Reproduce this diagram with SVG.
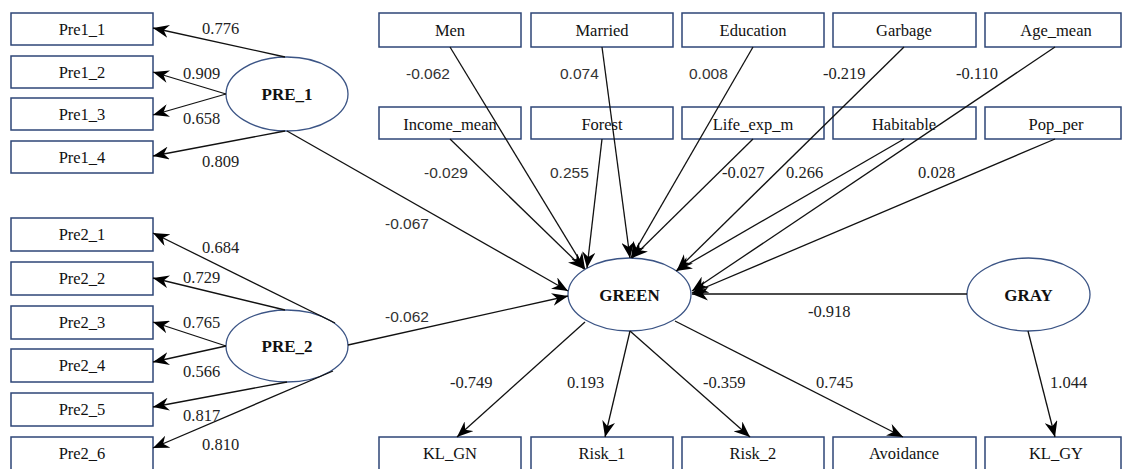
<svg xmlns="http://www.w3.org/2000/svg" width="1122" height="469" viewBox="0 0 1122 469">
<style>
.box{fill:#fff;stroke:#2e4677;stroke-width:1.5}
.ell{fill:#fff;stroke:#3b5485;stroke-width:1.3}
.bt{font-family:"Liberation Serif","Times New Roman",serif;font-size:16.5px;fill:#111;text-anchor:middle}
.lt{font-family:"Liberation Serif","Times New Roman",serif;font-size:17px;font-weight:bold;fill:#111;text-anchor:middle}
.cs{font-family:"Liberation Serif","Times New Roman",serif;font-size:16.5px;fill:#222}
.ca{font-family:"Liberation Sans",Arial,sans-serif;font-size:15.5px;fill:#333}
.ln{fill:none;stroke:#111;stroke-width:1.3;marker-end:url(#ah)}
</style>
<defs>
<marker id="ah" markerUnits="userSpaceOnUse" viewBox="0 0 16 13" refX="16" refY="6.5" markerWidth="16" markerHeight="13" orient="auto">
<path d="M0,0 L16,6.5 L0,13 L5,6.5 Z" fill="#000"/>
</marker>
</defs>
<rect width="1122" height="469" fill="#fff"/>

<g id="Pre1_1"><rect class="box" x="11" y="13" width="142" height="32"/><text class="bt" x="82" y="35">Pre1_1</text></g>
<g id="Pre1_2"><rect class="box" x="11" y="56" width="142" height="32"/><text class="bt" x="82" y="78">Pre1_2</text></g>
<g id="Pre1_3"><rect class="box" x="11" y="98" width="142" height="32"/><text class="bt" x="82" y="120">Pre1_3</text></g>
<g id="Pre1_4"><rect class="box" x="11" y="141" width="142" height="32"/><text class="bt" x="82" y="163">Pre1_4</text></g>

<g id="Pre2_1"><rect class="box" x="11" y="218" width="142" height="33"/><text class="bt" x="82" y="240">Pre2_1</text></g>
<g id="Pre2_2"><rect class="box" x="11" y="262" width="142" height="33"/><text class="bt" x="82" y="284">Pre2_2</text></g>
<g id="Pre2_3"><rect class="box" x="11" y="306" width="142" height="33"/><text class="bt" x="82" y="328">Pre2_3</text></g>
<g id="Pre2_4"><rect class="box" x="11" y="349" width="142" height="33"/><text class="bt" x="82" y="371">Pre2_4</text></g>
<g id="Pre2_5"><rect class="box" x="11" y="393" width="142" height="33"/><text class="bt" x="82" y="415">Pre2_5</text></g>
<g id="Pre2_6"><rect class="box" x="11" y="437" width="142" height="40"/><text class="bt" x="82" y="459">Pre2_6</text></g>

<g id="PRE_1"><ellipse class="ell" cx="287" cy="94" rx="61" ry="37"/><text class="lt" x="287" y="100">PRE_1</text></g>
<g id="PRE_2"><ellipse class="ell" cx="287" cy="346" rx="61" ry="36"/><text class="lt" x="287" y="352">PRE_2</text></g>
<g id="GREEN"><ellipse class="ell" cx="629.5" cy="294.5" rx="61.5" ry="36.5"/><text class="lt" x="629.5" y="300.5">GREEN</text></g>
<g id="GRAY"><ellipse class="ell" cx="1028.5" cy="294.5" rx="61.5" ry="36.5"/><text class="lt" x="1028.5" y="300.5">GRAY</text></g>

<g id="Men"><rect class="box" x="379" y="13" width="142" height="34"/><text class="bt" x="450" y="36">Men</text></g>
<g id="Married"><rect class="box" x="531" y="13" width="142" height="34"/><text class="bt" x="602" y="36">Married</text></g>
<g id="Education"><rect class="box" x="682" y="13" width="142" height="34"/><text class="bt" x="753" y="36">Education</text></g>
<g id="Garbage"><rect class="box" x="833" y="13" width="143" height="34"/><text class="bt" x="904" y="36">Garbage</text></g>
<g id="Age_mean"><rect class="box" x="985" y="13" width="136" height="34"/><text class="bt" x="1056" y="36">Age_mean</text></g>

<g id="Income_mean"><rect class="box" x="379" y="107" width="142" height="32"/><text class="bt" x="450" y="130">Income_mean</text></g>
<g id="Forest"><rect class="box" x="531" y="107" width="142" height="32"/><text class="bt" x="602" y="130">Forest</text></g>
<g id="Life_exp_m"><rect class="box" x="682" y="107" width="142" height="32"/><text class="bt" x="753" y="130">Life_exp_m</text></g>
<g id="Habitable"><rect class="box" x="833" y="107" width="143" height="32"/><text class="bt" x="904" y="130">Habitable</text></g>
<g id="Pop_per"><rect class="box" x="985" y="107" width="136" height="32"/><text class="bt" x="1056" y="130">Pop_per</text></g>

<g id="KL_GN"><rect class="box" x="379" y="437" width="142" height="40"/><text class="bt" x="450" y="459">KL_GN</text></g>
<g id="Risk_1"><rect class="box" x="531" y="437" width="142" height="40"/><text class="bt" x="602" y="459">Risk_1</text></g>
<g id="Risk_2"><rect class="box" x="682" y="437" width="142" height="40"/><text class="bt" x="753" y="459">Risk_2</text></g>
<g id="Avoidance"><rect class="box" x="833" y="437" width="143" height="40"/><text class="bt" x="904" y="459">Avoidance</text></g>
<g id="KL_GY"><rect class="box" x="985" y="437" width="136" height="40"/><text class="bt" x="1056" y="459">KL_GY</text></g>

<g id="connectors">
<path class="ln" d="M285,57 L153,28"/>
<path class="ln" d="M226,94 L153,72"/>
<path class="ln" d="M226,94 L153,115"/>
<path class="ln" d="M285,131 L153,156"/>
<path class="ln" d="M335,323 L153,233"/>
<path class="ln" d="M285,310 L153,278"/>
<path class="ln" d="M226,346 L153,322"/>
<path class="ln" d="M226,346 L153,362"/>
<path class="ln" d="M287,382 L153,407"/>
<path class="ln" d="M333,371 L153,448"/>
<path class="ln" d="M287,131 L568,291"/>
<path class="ln" d="M348,345 L568,296"/>
<path class="ln" d="M450,47 L585,269"/>
<path class="ln" d="M450,139 L584,269"/>
<path class="ln" d="M602,139 L587,268"/>
<path class="ln" d="M602,47 L630,258"/>
<path class="ln" d="M753,47 L631,258"/>
<path class="ln" d="M753,139 L632,258"/>
<path class="ln" d="M904,47 L677,270"/>
<path class="ln" d="M904,139 L676,271"/>
<path class="ln" d="M1055,47 L692,291"/>
<path class="ln" d="M1055,139 L692,293"/>
<path class="ln" d="M967,294 L692,294"/>
<path class="ln" d="M585,322 L457,437"/>
<path class="ln" d="M630,331 L605,437"/>
<path class="ln" d="M630,331 L750,437"/>
<path class="ln" d="M675,321 L903,437"/>
<path class="ln" d="M1028,331 L1055,437"/>
</g>

<g id="labels">
<text class="cs" x="202" y="34">0.776</text>
<text class="cs" x="183" y="79">0.909</text>
<text class="cs" x="183" y="124">0.658</text>
<text class="cs" x="202" y="167">0.809</text>
<text class="cs" x="202" y="253">0.684</text>
<text class="cs" x="183" y="283">0.729</text>
<text class="cs" x="183" y="328">0.765</text>
<text class="cs" x="183" y="377">0.566</text>
<text class="cs" x="183" y="421">0.817</text>
<text class="cs" x="202" y="450">0.810</text>
<text class="ca" x="406" y="79">-0.062</text>
<text class="ca" x="560" y="79">0.074</text>
<text class="ca" x="689" y="79">0.008</text>
<text class="cs" x="823" y="79">-0.219</text>
<text class="cs" x="956" y="79">-0.110</text>
<text class="ca" x="424" y="178">-0.029</text>
<text class="ca" x="550" y="178">0.255</text>
<text class="cs" x="722" y="178">-0.027</text>
<text class="cs" x="786" y="178">0.266</text>
<text class="cs" x="918" y="178">0.028</text>
<text class="ca" x="385" y="229">-0.067</text>
<text class="ca" x="385" y="322">-0.062</text>
<text class="cs" x="808" y="317">-0.918</text>
<text class="cs" x="450" y="388">-0.749</text>
<text class="cs" x="567" y="388">0.193</text>
<text class="cs" x="703" y="388">-0.359</text>
<text class="cs" x="816" y="388">0.745</text>
<text class="cs" x="1050" y="388">1.044</text>
</g>
</svg>
